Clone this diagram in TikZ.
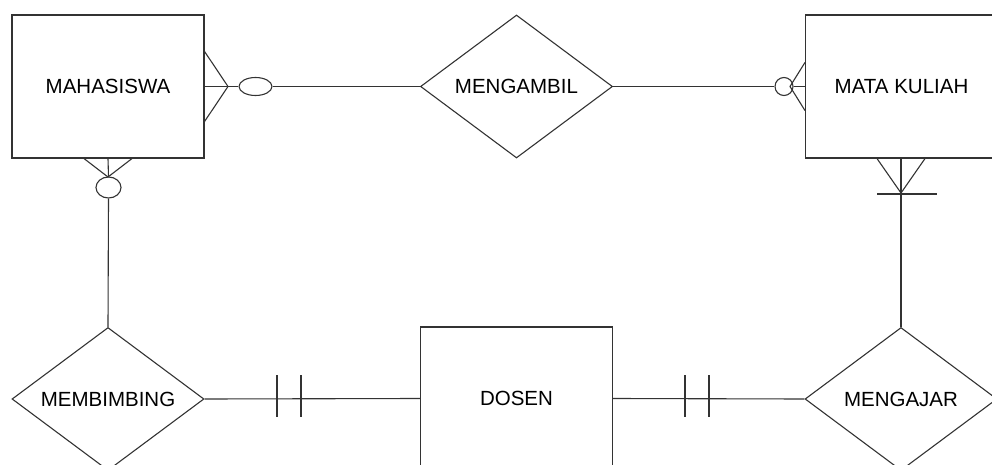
\documentclass[tikz,border=0pt]{standalone}
\usepackage{fontspec}
\setmainfont{Liberation Sans}
\usetikzlibrary{shapes.geometric,calc}
\begin{document}
\begin{tikzpicture}[x=1pt,y=-1pt,
  line width=1.1pt, draw=black!80,
  every node/.style={font=\fontsize{20.5}{24}\selectfont, text=black},
  entity/.style={draw, rectangle, minimum width=192pt, minimum height=143pt, inner sep=0pt},
  relation/.style={draw, diamond, aspect=1.34, minimum width=192pt, minimum height=143pt, inner sep=0pt},
  oval/.style={draw, ellipse, fill=white, inner sep=0pt}]
\useasboundingbox (0,0) rectangle (992,465);
\clip (0,0) rectangle (992,465);
% entities and relations
\node[entity] (mhs) at (108,86.5) {MAHASISWA};
\node[relation] (mgb) at (516.5,86.5) {MENGAMBIL};
\node[entity] (mk) at (901.5,86.5) {MATA KULIAH};
\node[relation] (mbb) at (108,399) {MEMBIMBING};
\node[entity] (dosen) at (516.5,398.5) {DOSEN};
\node[relation] (mgj) at (901,399) {MENGAJAR};
% MAHASISWA -- MENGAMBIL
\node[oval, minimum width=33pt, minimum height=18pt] (e1) at (255.5,86.5) {};
\coordinate (t1) at (228,86.5);
\draw (mhs.east) -- (e1.west);
\draw (e1.east) -- (mgb.west);
\draw ($(mhs.east)+(0,-35)$) -- (t1) -- ($(mhs.east)+(0,35)$);
% MENGAMBIL -- MATA KULIAH
\node[oval, minimum width=18pt, minimum height=18pt] (c2) at (784,86.5) {};
\coordinate (t2) at (790,86.5);
\draw (mgb.east) -- (c2.west);
\draw (c2.east) -- (mk.west);
\draw ($(mk.west)+(0,-24)$) -- (t2) -- ($(mk.west)+(0,24)$);
% MAHASISWA -- MEMBIMBING
\node[oval, minimum width=25pt, minimum height=21pt] (e3) at (108.5,187.5) {};
\coordinate (t3) at (108,177);
\draw (mhs.south) -- (e3.north);
\draw (e3.south) -- (mbb.north);
\draw ($(mhs.south)+(-24,0)$) -- (t3) -- ($(mhs.south)+(24,0)$);
% MATA KULIAH -- MENGAJAR
\coordinate (t4) at (901,193);
\draw (mk.south -| t4) -- (mgj.north);
\draw ($(mk.south -| t4)+(-24,0)$) -- (t4) -- ($(mk.south -| t4)+(24,0)$);
\draw (877,194) -- (937,194);
% MEMBIMBING -- DOSEN
\draw (mbb.east) -- (dosen.west);
\draw (277,375) -- (277,417);
\draw (301,375) -- (301,417);
% DOSEN -- MENGAJAR
\draw (dosen.east) -- (mgj.west);
\draw (685,375) -- (685,417);
\draw (709,375) -- (709,417);
\end{tikzpicture}
\end{document}
